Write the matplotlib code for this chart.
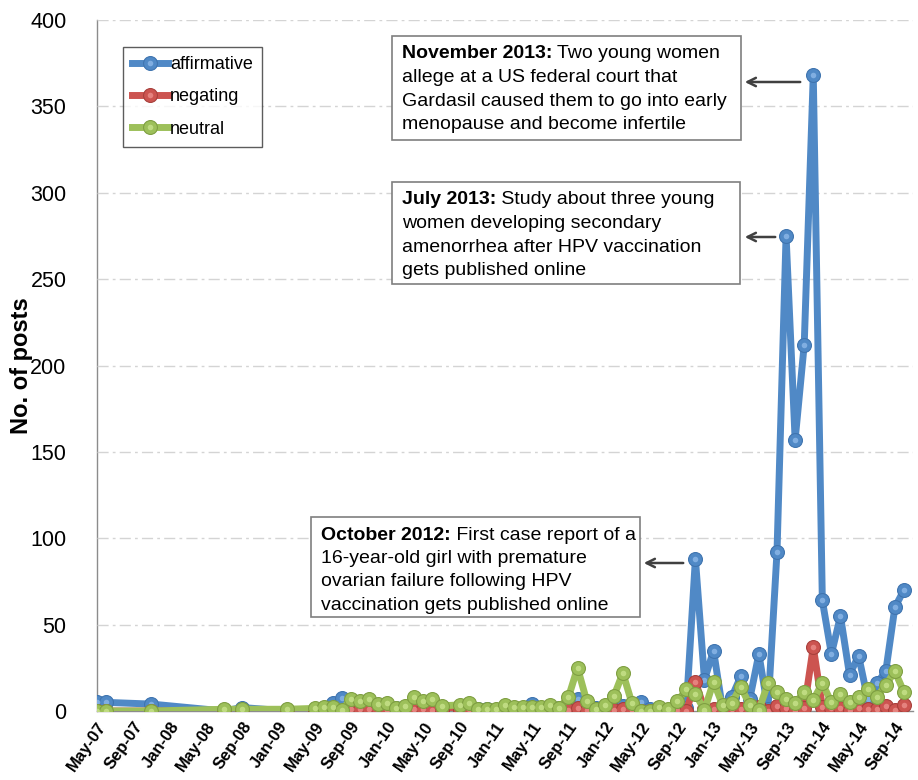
import matplotlib
matplotlib.use("Agg")
import matplotlib.pyplot as plt
import pandas as pd
from matplotlib.patches import Rectangle
from matplotlib.text import Annotation

# ---- data (monthly post counts) ----
months = [
    "2007-05", "2007-06", "2007-11", "2008-07", "2008-09", "2009-02",
    "2009-05", "2009-06", "2009-07", "2009-08", "2009-09", "2009-10", "2009-11", "2009-12",
    "2010-01", "2010-02", "2010-03", "2010-04", "2010-05", "2010-06", "2010-07",
    "2010-09", "2010-10", "2010-11", "2010-12",
    "2011-01", "2011-02", "2011-03", "2011-04", "2011-05", "2011-06",
    "2011-07", "2011-08", "2011-09", "2011-10", "2011-11", "2011-12",
    "2012-01", "2012-02", "2012-03", "2012-04", "2012-05", "2012-06",
    "2012-07", "2012-08", "2012-09", "2012-10", "2012-11", "2012-12",
    "2013-01", "2013-02", "2013-03", "2013-04", "2013-05", "2013-06",
    "2013-07", "2013-08", "2013-09", "2013-10", "2013-11", "2013-12",
    "2014-01", "2014-02", "2014-03", "2014-04", "2014-05", "2014-06",
    "2014-07", "2014-08", "2014-09", "2014-10",
]

affirmative = [
    5, 5, 4, 0, 2, 0,
    0.5, 1, 4.5, 7.5, 4, 2, 2, 1.5, 2, 1.5, 2, 2.5, 2, 1.5, 1,
    2, 3, 1, 1, 0.5, 2, 1.5, 2, 4, 2,
    2, 2, 4, 7, 4, 1.5, 1, 8, 3, 2,
    5, 1, 1, 0.5, 1, 2, 88, 18, 35, 1,
    8, 20, 7, 33, 1, 92, 275, 157, 212, 368,
    64, 33, 55, 21, 32, 7, 16, 23, 60, 70,
]

negating = [
    0, 0, 0, 0, 0, 0,
    0, 0, 0, 0, 1, 1, 1, 1, 0.5, 0, 1, 1, 1, 0.5, 0.5,
    0.5, 1, 0, 0, 0.5, 1, 0.5, 0.5, 1, 0.5,
    1, 0.5, 0.5, 1.5, 0.5, 0, 1, 0.5, 1, 0.5,
    0, 0, 0, 0.5, 0.5, 0, 17, 1, 1, 0.5,
    1, 1, 0.5, 2.5, 0, 3, 1.5, 0, 1.5, 37,
    2.5, 1.5, 2, 0.5, 2, 1, 1, 3, 0.5, 3.5,
]

neutral = [
    0, 0, 0, 1, 1, 1,
    1.5, 2.5, 2.5, 0.5, 7, 6, 7, 4, 4.5, 1.5, 3, 8, 6, 7, 3,
    3.5, 4.5, 1, 1, 1, 3.5, 2.5, 2.5, 2.5, 2.5,
    3.5, 2, 8, 25, 6, 1, 3.5, 8.5, 22, 4.5,
    0, 0, 2.5, 1, 5.5, 12.5, 10, 0.5, 17, 3.5,
    4.5, 14, 3.5, 0.5, 16, 11, 7, 4.5, 11, 6.5,
    16, 5, 10, 5, 8, 12.5, 8, 15, 23, 11,
]

series_names = ["affirmative", "negating", "neutral"]

annotations = [
    ("November 2013:", [" Two young women", "allege at a US federal court that",
                        "Gardasil caused them to go into early",
                        "menopause and become infertile"]),
    ("July 2013:", [" Study about three young", "women developing secondary",
                    "amenorrhea after HPV vaccination", "gets published online"]),
    ("October 2012:", [" First case report of a", "16-year-old girl with premature",
                       "ovarian failure following HPV",
                       "vaccination gets published online"]),
]

# ---- convert months to month offsets from the first month ----
start = pd.Period("2007-05", freq="M")
x = [(pd.Period(m, freq="M") - start).n for m in months]

tick_pos = list(range(0, 89, 4))
tick_labels = [(start + k).strftime("%b-%y") for k in tick_pos]

# ---- figure ----
W, H = 918, 780
fig = plt.figure(figsize=(W / 100, H / 100), dpi=100)
plt.rcParams["font.family"] = ["Liberation Sans", "DejaVu Sans"]

ax_l, ax_r, ax_t, ax_b = 97, 913, 20, 711
ax = fig.add_axes([ax_l / W, 1 - ax_b / H, (ax_r - ax_l) / W, (ax_b - ax_t) / H])

colors = {"affirmative": ("#5089C6", "#3F74AF", "#8DB8E8"),
          "negating": ("#CC5450", "#A8403C", "#EC8E8A"),
          "neutral": ("#9DC05A", "#7F9F42", "#C8E38C")}

handles = []
for name, vals in zip(series_names, [affirmative, negating, neutral]):
    c, ec, hl = colors[name]
    ln, = ax.plot(x, vals, color=c, lw=5, solid_joinstyle="round",
                  marker="o", markersize=10, markerfacecolor=c,
                  markeredgecolor=ec, markeredgewidth=0.8)
    hi, = ax.plot(x, vals, linestyle="none", marker="o", markersize=4,
                  markerfacecolor=hl, markeredgewidth=0, alpha=0.8)
    handles.append((ln, hi))

ax.set_xlim(0, 90)
ax.set_ylim(0, 400)
ax.set_yticks(range(0, 401, 50))
ax.set_xticks(tick_pos)
ax.set_xticklabels(tick_labels, rotation=55, ha="right", rotation_mode="anchor",
                   fontsize=12, fontweight="bold")
ax.tick_params(axis="x", length=0, pad=6)
ax.tick_params(axis="y", length=0, pad=22, labelsize=15.5)

ax.yaxis.grid(True, color="#D4D4D4", linestyle=(0, (8, 3, 2, 3)), lw=1)
ax.set_axisbelow(True)
for s in ["top", "right"]:
    ax.spines[s].set_visible(False)
for s in ["left", "bottom"]:
    ax.spines[s].set_color("#8C8C8C")
    ax.spines[s].set_linewidth(1)
    ax.spines[s].set_zorder(0.5)

ax.set_ylabel("No. of posts", fontsize=17, fontweight="bold")
ax.yaxis.set_label_coords(-(ax_l - 33) / (ax_r - ax_l), 0.5)

leg = ax.legend(handles, series_names, loc="upper left",
                bbox_to_anchor=((123 - ax_l) / (ax_r - ax_l), 1 - (47 - ax_t) / (ax_b - ax_t)),
                borderaxespad=0, fontsize=13, frameon=True, fancybox=False,
                handlelength=2.0, handletextpad=0.1, labelspacing=0.85,
                borderpad=0.5)
leg.get_frame().set_edgecolor("#333333")
leg.get_frame().set_linewidth(1)

# ---- annotation boxes (pixel layout) ----
boxes = [(392, 36, 741, 140), (392, 182, 740, 284), (311, 517, 640, 617)]
arrows = [((803, 82), (742, 82)), ((778, 237), (742, 237)), ((686, 563), (641, 563))]


def fx(px):
    return px / W


def fy(py):
    return 1 - py / H


for (bold, rest), (x0, y0, x1, y1), (tail, head) in zip(annotations, boxes, arrows):
    fig.patches.append(Rectangle((fx(x0), fy(y1)), fx(x1) - fx(x0), fy(y0) - fy(y1),
                                 transform=fig.transFigure, facecolor="white",
                                 edgecolor="#7F7F7F", lw=1.2, zorder=5))
    tx = x0 + 10
    ty = y0 + 18
    t1 = fig.text(fx(tx), fy(ty), bold, fontsize=14, fontweight="bold",
                  va="center", ha="left", zorder=6)
    cont = Annotation(rest[0], xy=(1, 0.5), xycoords=t1, va="center", ha="left",
                      fontsize=14, zorder=6)
    fig.add_artist(cont)
    for i, line in enumerate(rest[1:], start=1):
        fig.text(fx(tx), fy(ty + 23.5 * i), line, fontsize=14,
                 va="center", ha="left", zorder=6)
    arr = Annotation("", xy=(fx(head[0]), fy(head[1])), xycoords="figure fraction",
                     xytext=(fx(tail[0]), fy(tail[1])), textcoords="figure fraction",
                     arrowprops=dict(arrowstyle="->,head_length=0.6,head_width=0.3",
                                     color="#404040", lw=1.8))
    fig.add_artist(arr)

fig.savefig("out.png", dpi=100)
